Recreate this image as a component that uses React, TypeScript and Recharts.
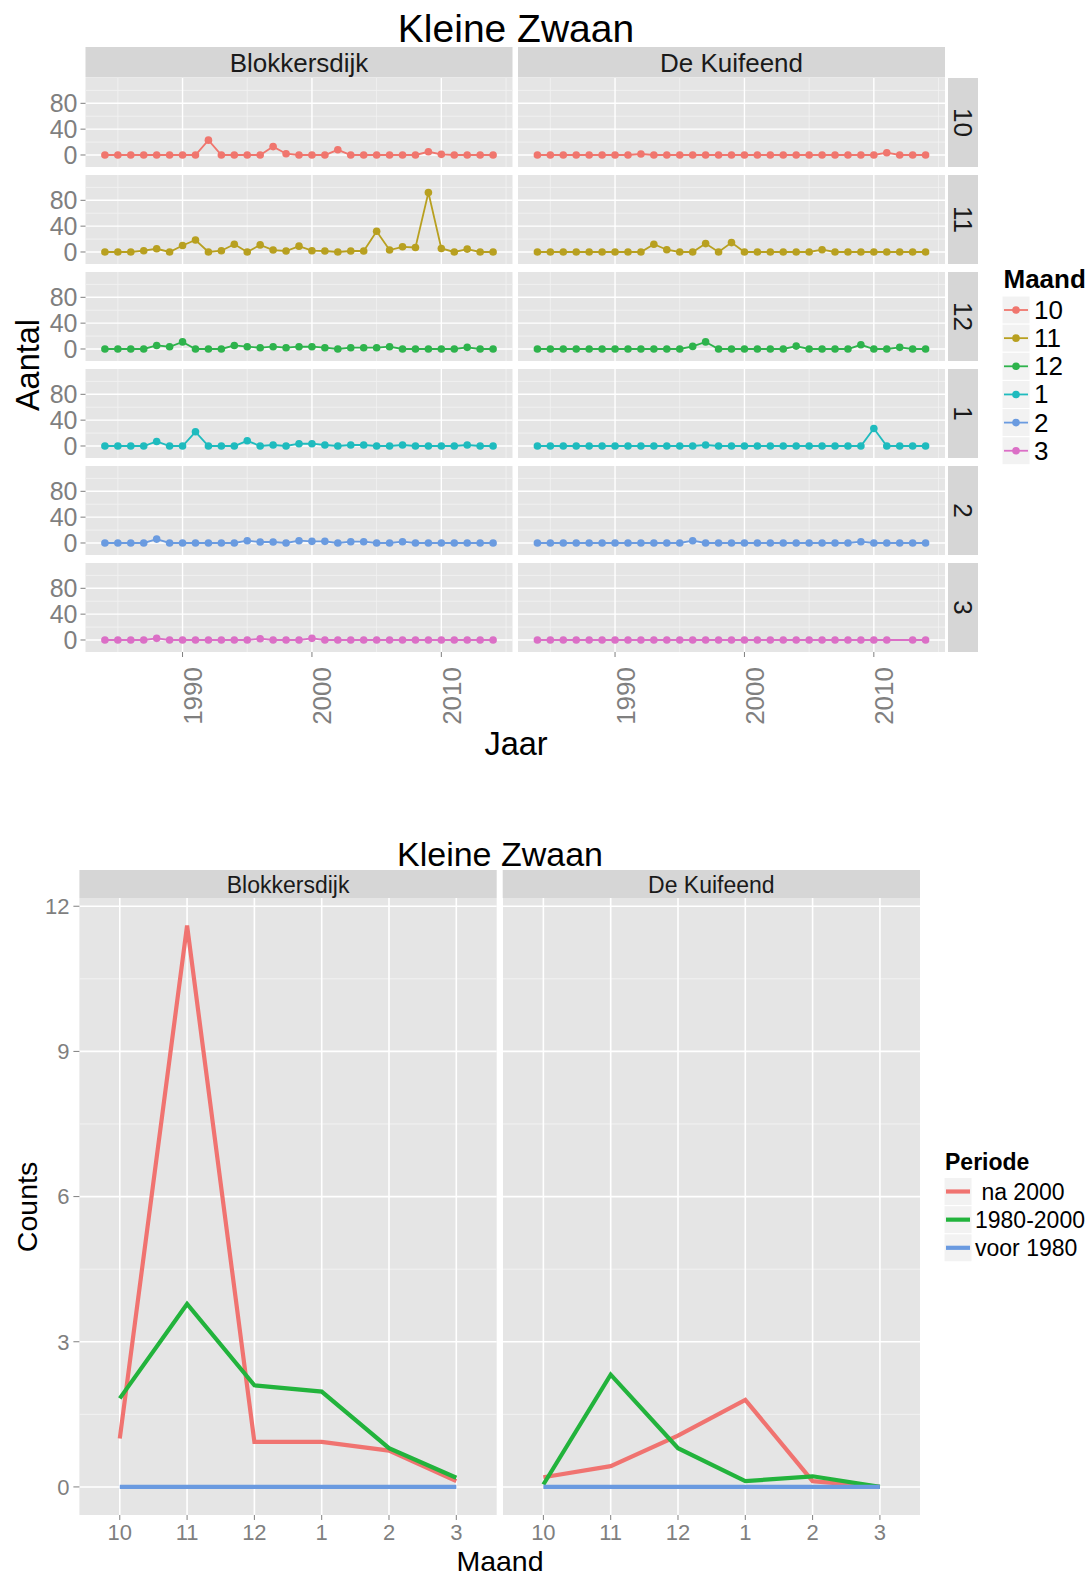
import React from "react";
import { LineChart, Line, XAxis, YAxis, CartesianGrid, ReferenceLine } from "recharts";

const FONT = "'Liberation Sans', Arial, Helvetica, sans-serif";

// ---------- Top chart data ----------
const years = [1984, 1985, 1986, 1987, 1988, 1989, 1990, 1991, 1992, 1993, 1994, 1995, 1996, 1997, 1998, 1999, 2000, 2001, 2002, 2003, 2004, 2005, 2006, 2007, 2008, 2009, 2010, 2011, 2012, 2013, 2014];
const sites = ["Blokkersdijk", "De Kuifeend"];
const monthLabels = ["10", "11", "12", "1", "2", "3"];
const monthColors = ["#F0766E", "#B8A020", "#2EB34C", "#1FBBBE", "#6A9BE0", "#DB6FC6"];

const blok10 = [0, 0, 0, 0, 0, 0, 0, 0, 23, 0, 0, 0, 0, 13, 2, 0, 0, 0, 8, 0, 0, 0, 0, 0, 0, 5, 1, 0, 0, 0, 0];
const blok11 = [0, 0, 0, 2, 5, 0, 10, 18.5, 0, 2, 12, 0, 11, 3, 1.5, 9, 2, 1.5, 0, 1.5, 1.5, 32, 3, 8, 7, 92, 5.5, 0, 4.5, 0, 0];
const blok12 = [0, 0, 0, 0, 5.5, 3.5, 11, 0, 0, 0, 5.5, 3.5, 2, 3.5, 2, 3.5, 3.5, 2, 0, 2, 2, 2, 3.5, 0, 0, 0, 0, 0, 2.5, 0, 0];
const blok1 = [0, 0, 0, 0, 7, 0, 0, 22, 0, 0, 0, 8, 0, 1.5, 0, 3.5, 3.5, 1.5, 0, 1.5, 1.5, 0, 0, 1.5, 0, 0, 0, 0, 1.5, 0, 0];
const blok2 = [0, 0, 0, 0, 6, 0, 0, 0, 0, 0, 0, 3.5, 1.5, 1.5, 0, 3.5, 2.5, 2.5, 0, 2, 2, 0, 0, 2, 0, 0, 0, 0, 0, 0, 0];
const blok3 = [0, 0, 0, 0, 2.5, 0, 0, 0, 0, 0, 0, 0, 2, 0, 0, 0, 2.5, 0, 0, 0, 0, 0, 0, 0, 0, 0, 0, 0, 0, 0, 0];

const kuif10 = [0, 0, 0, 0, 0, 0, 0, 0, 1.5, 0, 0, 0, 0, 0, 0, 0, 0, 0, 0, 0, 0, 0, 0, 0, 0, 0, 0, 3.5, 0, 0, 0];
const kuif11 = [0, 0, 0, 0, 0, 0, 0, 0, 0, 12, 3.5, 0, 0, 13, 0, 14.5, 0, 0, 0, 0, 0, 0, 3.5, 0, 0, 0, 0, 0, 0, 0, 0];
const kuif12 = [0, 0, 0, 0, 0, 0, 0, 0, 0, 0, 0, 0, 4, 11, 0, 0, 0, 0, 0, 0, 4.5, 0, 0, 0, 0, 6.5, 0, 0, 2.5, 0, 0];
const kuif1 = [0, 0, 0, 0, 0, 0, 0, 0, 0, 0, 0, 0, 0, 1.5, 0, 0, 0, 0, 0, 0, 0, 0, 0, 0, 0, 0, 27, 0, 0, 0, 0];
const kuif2 = [0, 0, 0, 0, 0, 0, 0, 0, 0, 0, 0, 0, 3.5, 0, 0, 0, 0, 0, 0, 0, 0, 0, 0, 0, 0, 2, 0, 0, 0, 0, 0];
const kuif3 = [0, 0, 0, 0, 0, 0, 0, 0, 0, 0, 0, 0, 0, 0, 0, 0, 0, 0, 0, 0, 0, 0, 0, 0, 0, 0, 0, 0, null, 0, 0];

const blokSeries = [blok10, blok11, blok12, blok1, blok2, blok3];
const kuifSeries = [kuif10, kuif11, kuif12, kuif1, kuif2, kuif3];

const topYTicks = [0, 40, 80];
const topYMinor = [20, 60, 100];
const topXTicks = [1990, 2000, 2010];
const topXMinor = [1985, 1995, 2005, 2015];

// ---------- Bottom chart data ----------
const periods = [" na 2000", "1980-2000", "voor 1980"];
const periodColors = ["#F07370", "#22B33C", "#6A9AE0"];
const blokNa2000 = [1.0, 11.6, 0.93, 0.93, 0.75, 0.12];
const blok19802000 = [1.83, 3.78, 2.1, 1.97, 0.8, 0.19];
const blokVoor1980 = [0, 0, 0, 0, 0, 0];
const kuifNa2000 = [0.2, 0.43, 1.06, 1.8, 0.12, 0];
const kuif19802000 = [0.05, 2.32, 0.8, 0.12, 0.22, 0];
const kuifVoor1980 = [0, 0, 0, 0, 0, 0];
const bottomYTicks = [0, 3, 6, 9, 12];
const bottomYMinor = [1.5, 4.5, 7.5, 10.5];

// ---------- Layout ----------
const TOP_PANEL_W = 427;
const TOP_LEFT_X = 85.5;
const TOP_RIGHT_X = 518;
const TOP_ROW0 = 78;
const TOP_ROW_STEP = 97;
const TOP_PANEL_H = 89;

const BOT_LEFT_X = 79.4;
const BOT_RIGHT_X = 502.7;
const BOT_PANEL_W = 417.3;
const BOT_TOP = 898;
const BOT_PANEL_H = 617;
const BOT_PAD_TOP = 12;

const RotTick = (props: any) => {
  const { x, y, payload } = props;
  return (
    <g transform={`translate(${x + 10.5},${y + 8}) rotate(-90)`}>
      <text textAnchor="end" dominantBaseline="central" fill="#7f7f7f" fontSize={26} fontFamily={FONT}>
        {payload.value}
      </text>
    </g>
  );
};

function TopPanel({ values, color, row, col }: { values: (number | null)[]; color: string; row: number; col: number }) {
  const isLeft = col === 0;
  const isBottom = row === 5;
  const left = isLeft ? 0 : TOP_RIGHT_X;
  const width = isLeft ? TOP_LEFT_X + TOP_PANEL_W : TOP_PANEL_W;
  const top = TOP_ROW0 + row * TOP_ROW_STEP;
  const extraBottom = isBottom ? 0 : 8;
  const height = TOP_PANEL_H + (isBottom ? 75 : extraBottom);
  const data = years.map((yr, i) => ({ year: yr, v: values[i] }));
  return (
    <div style={{ position: "absolute", left, top }}>
      <LineChart width={width} height={height} data={data} margin={{ top: 0, right: 0, bottom: extraBottom, left: 0 }} style={{ overflow: "visible" }}>
        <CartesianGrid fill="#E5E5E5" stroke="none" horizontal={false} vertical={false} />
        {topYMinor.map((v) => (
          <ReferenceLine key={"ym" + v} y={v} stroke="#F2F2F2" strokeWidth={0.8} />
        ))}
        {topXMinor.map((v) => (
          <ReferenceLine key={"xm" + v} x={v} stroke="#F2F2F2" strokeWidth={0.8} />
        ))}
        {topYTicks.map((v) => (
          <ReferenceLine key={"yM" + v} y={v} stroke="#FFFFFF" strokeWidth={1.4} />
        ))}
        {topXTicks.map((v) => (
          <ReferenceLine key={"xM" + v} x={v} stroke="#FFFFFF" strokeWidth={1.4} />
        ))}
        <XAxis
          type="number"
          dataKey="year"
          domain={[1982.5, 2015.5]}
          ticks={topXTicks}
          hide={!isBottom}
          height={isBottom ? 75 : 0}
          tick={<RotTick />}
          tickLine={{ stroke: "#7f7f7f" }}
          axisLine={false}
          tickSize={5}
          tickMargin={2}
          interval={0}
          allowDataOverflow
        />
        <YAxis
          type="number"
          domain={[-18.6, 119.2]}
          ticks={topYTicks}
          hide={!isLeft}
          width={isLeft ? TOP_LEFT_X : 0}
          tick={{ fill: "#7f7f7f", fontSize: 25, fontFamily: FONT }}
          tickLine={{ stroke: "#7f7f7f" }}
          axisLine={false}
          tickSize={5}
          tickMargin={3}
          interval={0}
          allowDataOverflow
        />
        <Line
          type="linear"
          dataKey="v"
          stroke={color}
          strokeWidth={1.8}
          dot={{ r: 3.8, fill: color, stroke: color, strokeWidth: 0 }}
          activeDot={false}
          connectNulls
          isAnimationActive={false}
        />
      </LineChart>
    </div>
  );
}

function BottomPanel({ col, na, mid, voor }: { col: number; na: number[]; mid: number[]; voor: number[] }) {
  const isLeft = col === 0;
  const left = isLeft ? 0 : BOT_RIGHT_X;
  const width = isLeft ? BOT_LEFT_X + BOT_PANEL_W : BOT_PANEL_W;
  const data = monthLabels.map((m, i) => ({ idx: i + 1, month: m, na: na[i], mid: mid[i], voor: voor[i] }));
  const xTicks = data.map((d) => d.idx);
  const series = [na, mid, voor];
  const keys = ["na", "mid", "voor"];
  return (
    <div style={{ position: "absolute", left, top: BOT_TOP - BOT_PAD_TOP }}>
      <LineChart width={width} height={BOT_PANEL_H + 45 + BOT_PAD_TOP} data={data} margin={{ top: BOT_PAD_TOP, right: 0, bottom: 0, left: 0 }} style={{ overflow: "visible" }}>
        <CartesianGrid fill="#E5E5E5" stroke="none" horizontal={false} vertical={false} />
        {bottomYMinor.map((v) => (
          <ReferenceLine key={"ym" + v} y={v} stroke="#F2F2F2" strokeWidth={1} />
        ))}
        {bottomYTicks.map((v) => (
          <ReferenceLine key={"yM" + v} y={v} stroke="#FFFFFF" strokeWidth={1.6} />
        ))}
        {xTicks.map((v) => (
          <ReferenceLine key={"xM" + v} x={v} stroke="#FFFFFF" strokeWidth={1.6} />
        ))}
        <XAxis
          type="number"
          dataKey="idx"
          domain={[0.4, 6.6]}
          ticks={xTicks}
          tickFormatter={(v: number) => monthLabels[v - 1]}
          height={45}
          tick={{ fill: "#7f7f7f", fontSize: 22, fontFamily: FONT }}
          tickLine={{ stroke: "#7f7f7f" }}
          axisLine={false}
          tickSize={5}
          tickMargin={4}
          interval={0}
          allowDataOverflow
        />
        <YAxis
          type="number"
          domain={[-0.58, 12.17]}
          ticks={bottomYTicks}
          hide={!isLeft}
          width={isLeft ? BOT_LEFT_X : 0}
          tick={{ fill: "#7f7f7f", fontSize: 22, fontFamily: FONT }}
          tickLine={{ stroke: "#7f7f7f" }}
          axisLine={false}
          tickSize={6}
          tickMargin={4}
          interval={0}
          allowDataOverflow
        />
        {series.map((s, i) => (
          <Line
            key={keys[i]}
            type="linear"
            dataKey={keys[i]}
            stroke={periodColors[i]}
            strokeWidth={4.2}
            dot={false}
            activeDot={false}
            isAnimationActive={false}
          />
        ))}
      </LineChart>
    </div>
  );
}

function Overlay() {
  const stripFill = "#D6D6D6";
  return (
    <svg width={1091} height={1576} style={{ position: "absolute", left: 0, top: 0 }} fontFamily={FONT}>
      {/* ---------- top chart ---------- */}
      <text x={516} y={42} textAnchor="middle" fontSize={39} fill="#000">Kleine Zwaan</text>
      {sites.map((s, i) => {
        const x = i === 0 ? TOP_LEFT_X : TOP_RIGHT_X;
        return (
          <g key={s}>
            <rect x={x} y={47} width={TOP_PANEL_W} height={30.5} fill={stripFill} />
            <text x={x + TOP_PANEL_W / 2} y={63} textAnchor="middle" dominantBaseline="central" fontSize={26} fill="#1a1a1a">{s}</text>
          </g>
        );
      })}
      {monthLabels.map((m, i) => {
        const top = TOP_ROW0 + i * TOP_ROW_STEP;
        const cy = top + TOP_PANEL_H / 2;
        return (
          <g key={"rs" + m}>
            <rect x={948} y={top} width={30} height={TOP_PANEL_H} fill={stripFill} />
            <g transform={`translate(963,${cy}) rotate(90)`}>
              <text textAnchor="middle" dominantBaseline="central" fontSize={26} fill="#1a1a1a">{m}</text>
            </g>
          </g>
        );
      })}
      <g transform="translate(28,365) rotate(-90)">
        <text textAnchor="middle" dominantBaseline="central" fontSize={32.5} fill="#000">Aantal</text>
      </g>
      <text x={516} y={744} textAnchor="middle" dominantBaseline="central" fontSize={32.5} fill="#000">Jaar</text>
      <text x={1003.5} y={279} dominantBaseline="central" fontSize={26} fontWeight="bold" fill="#000">Maand</text>
      {monthLabels.map((m, i) => {
        const cy = 310 + i * 28.15;
        return (
          <g key={"lg" + m}>
            <rect x={1002} y={cy - 14} width={28} height={28} fill="#F2F2F2" stroke="#FFFFFF" />
            <line x1={1004} x2={1028} y1={cy} y2={cy} stroke={monthColors[i]} strokeWidth={1.8} />
            <circle cx={1016} cy={cy} r={3.8} fill={monthColors[i]} />
            <text x={1034} y={cy} dominantBaseline="central" fontSize={26} fill="#000">{m}</text>
          </g>
        );
      })}

      {/* ---------- bottom chart ---------- */}
      <text x={500} y={866} textAnchor="middle" fontSize={34} fill="#000">Kleine Zwaan</text>
      {sites.map((s, i) => {
        const x = i === 0 ? BOT_LEFT_X : BOT_RIGHT_X;
        return (
          <g key={"b" + s}>
            <rect x={x} y={870} width={BOT_PANEL_W} height={28} fill={stripFill} />
            <text x={x + BOT_PANEL_W / 2} y={885} textAnchor="middle" dominantBaseline="central" fontSize={23} fill="#1a1a1a">{s}</text>
          </g>
        );
      })}
      <g transform="translate(27,1207) rotate(-90)">
        <text textAnchor="middle" dominantBaseline="central" fontSize={28.5} fill="#000">Counts</text>
      </g>
      <text x={500} y={1561} textAnchor="middle" dominantBaseline="central" fontSize={28.5} fill="#000">Maand</text>
      <text x={945} y={1162} dominantBaseline="central" fontSize={23} fontWeight="bold" fill="#000">Periode</text>
      {periods.map((p, i) => {
        const cy = 1191.5 + i * 28.15;
        return (
          <g key={"pl" + p}>
            <rect x={944} y={cy - 14} width={28} height={28} fill="#F2F2F2" stroke="#FFFFFF" />
            <line x1={946} x2={970} y1={cy} y2={cy} stroke={periodColors[i]} strokeWidth={4.2} />
            <text x={975} y={cy} dominantBaseline="central" fontSize={23} fill="#000" style={{ whiteSpace: "pre" }} xmlSpace="preserve">{p}</text>
          </g>
        );
      })}
    </svg>
  );
}

export default function App() {
  return (
    <div style={{ position: "absolute", left: 0, top: 0, width: 1091, height: 1576, background: "#FFFFFF", fontFamily: FONT, overflow: "hidden" }}>
      <Overlay />
      {monthLabels.map((m, r) => (
        <React.Fragment key={"row" + m}>
          <TopPanel values={blokSeries[r]} color={monthColors[r]} row={r} col={0} />
          <TopPanel values={kuifSeries[r]} color={monthColors[r]} row={r} col={1} />
        </React.Fragment>
      ))}
      <BottomPanel col={0} na={blokNa2000} mid={blok19802000} voor={blokVoor1980} />
      <BottomPanel col={1} na={kuifNa2000} mid={kuif19802000} voor={kuifVoor1980} />
    </div>
  );
}
